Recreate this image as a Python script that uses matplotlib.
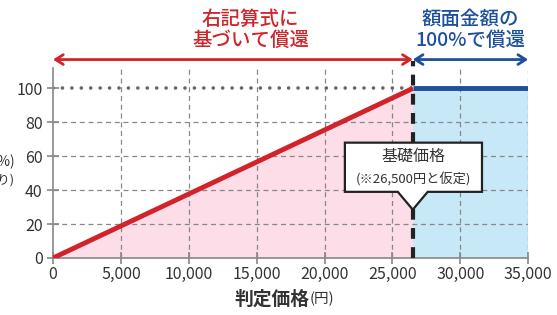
import matplotlib
matplotlib.use("Agg")
import matplotlib.pyplot as plt
from matplotlib.patches import Polygon
import numpy as np

plt.rcParams['font.family'] = ['Noto Sans CJK JP', 'DejaVu Sans']

# data
base_price = 26500
max_price = 35000
redemption_pct = 100
x_ticks = [0, 5000, 10000, 15000, 20000, 25000, 30000, 35000]
x_ticklabels = ['0', '5,000', '10,000', '15,000', '20,000', '25,000', '30,000', '35,000']
y_ticks = [0, 20, 40, 60, 80, 100]
line_x = [0, base_price]
line_y = [0, redemption_pct]
flat_x = [base_price, max_price]
flat_y = [redemption_pct, redemption_pct]

RED = '#d2232a'
BLUE = '#1c4f9c'
PINK = '#fcdde8'
LBLUE = '#c6e8f7'
GRAY = '#888888'
TXT = '#333333'

fig = plt.figure(figsize=(5.57, 3.15), dpi=100)
ax = fig.add_axes([0.0952, 0.181, 0.853, 0.603])
ax.set_xlim(0, max_price)
ax.set_ylim(0, 112)

# fills
ax.fill_between(line_x, 0, line_y, color=PINK, lw=0, zorder=0)
ax.fill_between(flat_x, 0, flat_y, color=LBLUE, lw=0, zorder=0)

# grid
for yv in y_ticks[1:-1]:
    ax.plot([0, max_price], [yv, yv], color=GRAY, lw=0.9, ls=(0, (4, 3)), zorder=1)
for xv in x_ticks[1:]:
    ax.plot([xv, xv], [0, 112], color=GRAY, lw=0.9, ls=(0, (4, 3)), zorder=1)

# dotted 100 line
ax.plot([0, base_price], [redemption_pct, redemption_pct], color='#666666', lw=2.6,
        ls=(0, (0.01, 2.6)), dash_capstyle='round', zorder=2)

# lines
ax.plot(line_x, line_y, color=RED, lw=3.5, solid_capstyle='butt', zorder=4)
ax.plot(flat_x, flat_y, color=BLUE, lw=3.5, solid_capstyle='butt', zorder=4)

# vertical base price line
ax.plot([base_price, base_price], [0, 116], color='#222222', lw=3,
        ls=(0, (2.6, 2.0)), clip_on=False, zorder=5)

# arrows
arr_y = 117
ax.annotate('', xy=(0, arr_y), xytext=(base_price, arr_y), annotation_clip=False,
            arrowprops=dict(arrowstyle='<->,head_length=0.55,head_width=0.35', color=RED, lw=2,
                            shrinkA=0, shrinkB=0))
ax.annotate('', xy=(base_price, arr_y), xytext=(max_price, arr_y), annotation_clip=False,
            arrowprops=dict(arrowstyle='<->,head_length=0.55,head_width=0.35', color=BLUE, lw=2,
                            shrinkA=0, shrinkB=0))

# headers
ax.text(base_price / 2 + 1300, 134.5, '右記算式に\n基づいて償還', color=RED, fontsize=14,
        fontweight=500, ha='center', va='center', linespacing=1.1, clip_on=False)
ax.text((base_price + max_price) / 2, 134.5, '額面金額の\n100%で償還', color=BLUE, fontsize=14,
        fontweight=500, ha='center', va='center', linespacing=1.1, clip_on=False)

# callout
bx0, bx1 = base_price - 5000, base_price + 5100
by0, by1 = 39, 68
tip_y = 28.5
hw = 1100
poly = Polygon([(bx0, by1), (bx1, by1), (bx1, by0), (base_price + hw, by0),
                (base_price, tip_y), (base_price - hw, by0), (bx0, by0)], closed=True,
               facecolor='white', edgecolor='#222222', lw=1.6, zorder=6)
ax.add_patch(poly)
cx = (bx0 + bx1) / 2
ax.text(cx, 60, '基礎価格', fontsize=11.5, ha='center', va='center', color=TXT, zorder=7)
ax.text(cx, 46.5, '(※26,500円と仮定)', fontsize=9.5, ha='center', va='center', color=TXT, zorder=7)

# spines / ticks
for s in ['top', 'right']:
    ax.spines[s].set_visible(False)
for s in ['left', 'bottom']:
    ax.spines[s].set_color(GRAY)
    ax.spines[s].set_linewidth(1.2)
    ax.spines[s].set_zorder(3)
ax.set_xticks(x_ticks)
ax.set_xticklabels(x_ticklabels)
ax.set_yticks(y_ticks)
ax.tick_params(direction='inout', length=8, width=1.2, color=GRAY, labelsize=11.5,
               labelcolor=TXT)
ax.tick_params(axis='x', pad=2)

# x label
fig.text(0.555, 0.02, '判定価格', fontsize=13.5, fontweight='bold', ha='right', va='bottom', color=TXT)
fig.text(0.555, 0.027, '(円)', fontsize=10.5, ha='left', va='bottom', color=TXT)

# y label (cut off at left edge, as in the reference)
fig.text(0.027, 0.49, '償還額(%)', fontsize=10, ha='right', va='center', color=TXT)
fig.text(0.027, 0.43, '(額面当たり)', fontsize=9, ha='right', va='center', color=TXT)

fig.savefig('out.png', dpi=100)
